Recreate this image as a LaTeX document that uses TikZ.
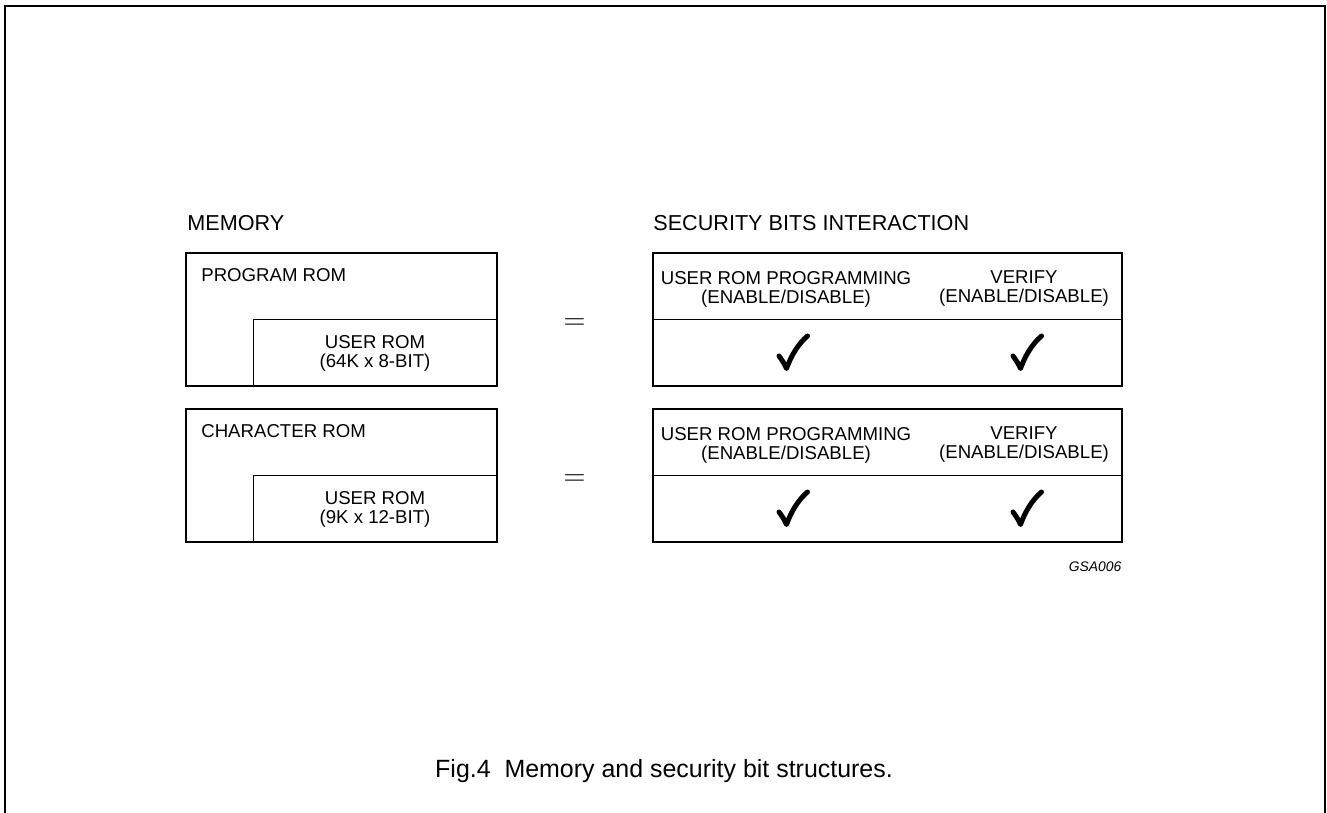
\documentclass[tikz,border=0pt]{standalone}
\usepackage{fontspec}
\setmainfont{Liberation Sans}
\begin{document}
\begin{tikzpicture}[x=0.02cm,y=-0.02cm]
        \tikzstyle{frame}=[line width=0.9pt]
        \tikzstyle{box}=[line width=0.7pt]
        \tikzstyle{divider}=[line width=0.55pt]
        \tikzstyle{heading}=[inner sep=0pt,anchor=base west,font=\fontsize{12.3}{14}\selectfont]
        \tikzstyle{cell}=[inner sep=0pt,align=center,font=\fontsize{10.6}{10.8}\selectfont]
        \tikzstyle{equals}=[inner sep=0pt,anchor=base,font=\fontsize{18.8}{20}\selectfont]
        \tikzset{checkmark/.pic={
                \draw[line width=0.1cm, line cap=round, line join=round]
                        (-14,3) .. controls (-11,7) and (-8.5,11) .. (-6.5,15.5)
                        .. controls (-2,3) and (5,-9) .. (14.5,-17);
        }}

        \useasboundingbox (0,0) rectangle (1327,813);
        \draw[frame] (5,813) -- (5,6) -- (1325,6) -- (1325,813);

        \node (mem)[heading] at (187,231) {MEMORY};
        \node (sec)[heading] at (653,231) {SECURITY BITS INTERACTION};

        % memory blocks
        \draw[box] (186,253) rectangle (497,386);
        \draw[divider] (253,386) -- (253,319) -- (497,319);
        \node (progrom)[cell, anchor=base west] at (201,281.7) {PROGRAM ROM};
        \node (userrom1)[cell] at (375,353) {USER ROM\\(64K x 8-BIT)};

        \draw[box] (186,409) rectangle (497,542);
        \draw[divider] (253,542) -- (253,475) -- (497,475);
        \node (charrom)[cell, anchor=base west] at (201,437.7) {CHARACTER ROM};
        \node (userrom2)[cell] at (375,509) {USER ROM\\(9K x 12-BIT)};

        \node (eq1)[equals] at (574.5,329.3) {$=$};
        \node (eq2)[equals] at (574.5,485.3) {$=$};

        % security bits
        \draw[box] (653,253) rectangle (1122,386);
        \draw[divider] (653,319) -- (1122,319);
        \node (prog1)[cell] at (786,289) {USER ROM PROGRAMMING\\(ENABLE/DISABLE)};
        \node (verify1)[cell] at (1024,289) {VERIFY\\(ENABLE/DISABLE)};
        \pic (tick1) at (793,353) {checkmark};
        \pic (tick2) at (1027,353) {checkmark};

        \draw[box] (653,409) rectangle (1122,542);
        \draw[divider] (653,475) -- (1122,475);
        \node (prog2)[cell] at (786,445) {USER ROM PROGRAMMING\\(ENABLE/DISABLE)};
        \node (verify2)[cell] at (1024,445) {VERIFY\\(ENABLE/DISABLE)};
        \pic (tick3) at (793,509) {checkmark};
        \pic (tick4) at (1027,509) {checkmark};

        \node (code)[inner sep=0pt, anchor=base east, font=\fontsize{7.9}{9}\selectfont\itshape] at (1121.7,571.7) {GSA006};

        \node (caption)[inner sep=0pt, anchor=base, font=\fontsize{14.2}{16}\selectfont] at (664,777) {Fig.4\ \ Memory and security bit structures.};
\end{tikzpicture}
\end{document}
